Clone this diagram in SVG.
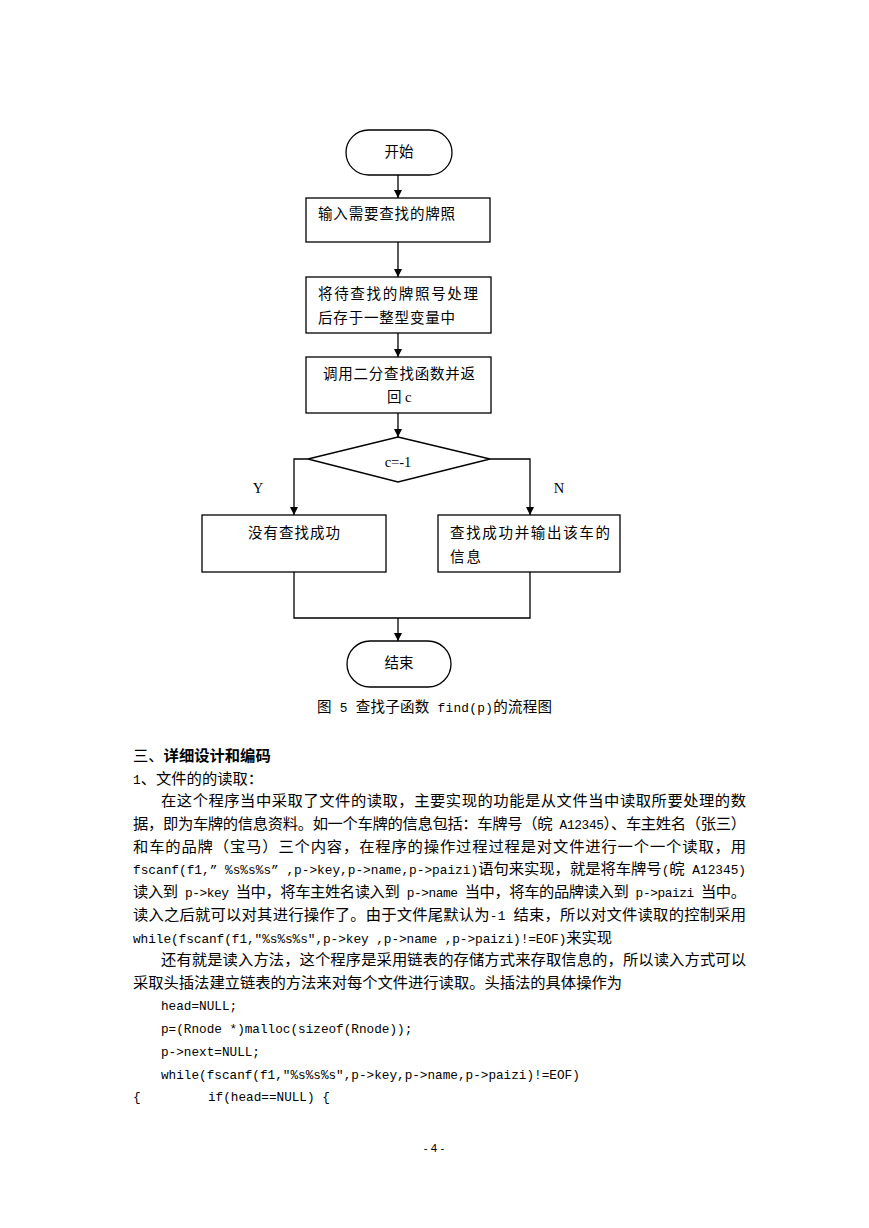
<svg xmlns="http://www.w3.org/2000/svg" width="869" height="1228" viewBox="0 0 869 1228">
<defs>
<marker id="ah" viewBox="0 0 10 10" refX="10" refY="5" markerWidth="8" markerHeight="8" markerUnits="userSpaceOnUse" orient="auto">
<path d="M0,0 L10,5 L0,10 z" fill="#000"/>
</marker>
<style>
.shape{fill:#fff;stroke:#000;stroke-width:1.3}
.conn{fill:none;stroke:#000;stroke-width:1.3}
.t{font-family:"Liberation Serif","Noto Sans CJK SC",serif;font-size:14.5px;fill:#000}
.lat{font-family:"Liberation Serif",serif;font-size:14.5px;fill:#000}
.b{font-family:"Liberation Serif","Noto Sans CJK SC",serif;font-size:15.3px;fill:#000}
.m{font-family:"Liberation Mono",monospace;font-size:12.8px}
.code{font-family:"Liberation Mono",monospace;font-size:12.7px;fill:#000}
</style>
</defs>
<rect width="869" height="1228" fill="#fff"/>
<g id="connectors">
<line class="conn" x1="398" y1="175" x2="398" y2="198" marker-end="url(#ah)"/>
<line class="conn" x1="398" y1="242" x2="398" y2="277" marker-end="url(#ah)"/>
<line class="conn" x1="398" y1="333" x2="398" y2="357" marker-end="url(#ah)"/>
<line class="conn" x1="398" y1="413" x2="398" y2="437" marker-end="url(#ah)"/>
<polyline class="conn" points="308,459 294,459 294,515" marker-end="url(#ah)"/>
<polyline class="conn" points="490,459 530,459 530,515" marker-end="url(#ah)"/>
<polyline class="conn" points="294,572 294,618 530,618 530,572"/>
<line class="conn" x1="398" y1="618" x2="398" y2="641" marker-end="url(#ah)"/>
<text class="lat" x="258" y="493" text-anchor="middle">Y</text>
<text class="lat" x="559" y="493" text-anchor="middle">N</text>
</g>
<g id="start">
<rect class="shape" x="346" y="130" width="106" height="45" rx="22.5"/>
<text class="t" x="399" y="157" text-anchor="middle">开始</text>
</g>
<g id="input">
<rect class="shape" x="306" y="198" width="184" height="44"/>
<text class="t" x="318" y="219" textLength="137" lengthAdjust="spacing">输入需要查找的牌照</text>
</g>
<g id="convert">
<rect class="shape" x="306" y="277" width="185" height="56"/>
<text class="t" x="318" y="299" textLength="160" lengthAdjust="spacing">将待查找的牌照号处理</text>
<text class="t" x="318" y="323" textLength="137" lengthAdjust="spacing">后存于一整型变量中</text>
</g>
<g id="search">
<rect class="shape" x="306" y="357" width="185" height="56"/>
<text class="t" x="323" y="379" textLength="152" lengthAdjust="spacing">调用二分查找函数并返</text>
<text class="t" x="387" y="402">回 c</text>
</g>
<g id="decision">
<polygon class="shape" points="398,437 490,459 398,482 308,459"/>
<text class="lat" x="398" y="467" text-anchor="middle">c=-1</text>
</g>
<g id="notfound">
<rect class="shape" x="202" y="515" width="184" height="57"/>
<text class="t" x="248" y="538" textLength="92" lengthAdjust="spacing">没有查找成功</text>
</g>
<g id="found">
<rect class="shape" x="438" y="515" width="182" height="57"/>
<text class="t" x="450" y="538" textLength="160" lengthAdjust="spacing">查找成功并输出该车的</text>
<text class="t" x="450" y="562" textLength="31" lengthAdjust="spacing">信息</text>
</g>
<g id="end">
<rect class="shape" x="347" y="641" width="104" height="46" rx="23"/>
<text class="t" x="399" y="668" text-anchor="middle">结束</text>
</g>
<g id="text">
<text class="t" x="317" y="712" textLength="235" lengthAdjust="spacing">图<tspan class="m"> 5  </tspan>查找子函数<tspan class="m"> find(p)</tspan>的流程图</text>
<text class="b" x="133" y="761">三、<tspan font-weight="bold">详细设计和编码</tspan></text>
<text class="b" x="133" y="784"><tspan class="m">1</tspan>、文件的的读取：</text>
<text class="b" x="161" y="806" textLength="585" lengthAdjust="spacing">在这个程序当中采取了文件的读取，主要实现的功能是从文件当中读取所要处理的数</text>
<text class="b" x="133" y="829" textLength="613" lengthAdjust="spacing">据，即为车牌的信息资料。如一个车牌的信息包括：车牌号（皖<tspan class="m"> A12345</tspan>）、车主姓名（张三）</text>
<text class="b" x="133" y="852" textLength="613" lengthAdjust="spacing">和车的品牌（宝马）三个内容，在程序的操作过程过程是对文件进行一个一个读取，用</text>
<text class="b" x="133" y="874" textLength="613" lengthAdjust="spacing"><tspan class="m">fscanf(f1,” %s%s%s” ,p-&gt;key,p-&gt;name,p-&gt;paizi)</tspan>语句来实现，就是将车牌号<tspan class="m">(</tspan>皖<tspan class="m"> A12345)</tspan></text>
<text class="b" x="133" y="897" textLength="613" lengthAdjust="spacing">读入到<tspan class="m"> p-&gt;key </tspan>当中，将车主姓名读入到<tspan class="m"> p-&gt;name </tspan>当中，将车的品牌读入到<tspan class="m"> p-&gt;paizi </tspan>当中。</text>
<text class="b" x="133" y="920" textLength="613" lengthAdjust="spacing">读入之后就可以对其进行操作了。由于文件尾默认为<tspan class="m">-1 </tspan>结束，所以对文件读取的控制采用</text>
<text class="b" x="133" y="943" textLength="479" lengthAdjust="spacing"><tspan class="m">while(fscanf(f1,″%s%s%s″,p-&gt;key ,p-&gt;name ,p-&gt;paizi)!=EOF)</tspan>来实现</text>
<text class="b" x="161" y="965" textLength="585" lengthAdjust="spacing">还有就是读入方法，这个程序是采用链表的存储方式来存取信息的，所以读入方式可以</text>
<text class="b" x="133" y="988" textLength="489" lengthAdjust="spacing">采取头插法建立链表的方法来对每个文件进行读取。头插法的具体操作为</text>
<text class="code" x="161" y="1010">head=NULL;</text>
<text class="code" x="161" y="1033">p=(Rnode *)malloc(sizeof(Rnode));</text>
<text class="code" x="161" y="1056">p-&gt;next=NULL;</text>
<text class="code" x="161" y="1079">while(fscanf(f1,″%s%s%s″,p-&gt;key,p-&gt;name,p-&gt;paizi)!=EOF)</text>
<text class="code" x="133" y="1101">{</text>
<text class="code" x="208" y="1101">if(head==NULL) {</text>
<text x="434" y="1152" text-anchor="middle" font-family="Liberation Sans, sans-serif" font-size="11.5" fill="#000">- 4 -</text>
</g>
</svg>
